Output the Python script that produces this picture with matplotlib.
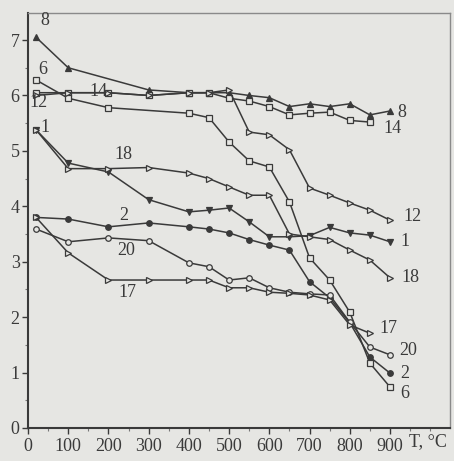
import matplotlib
matplotlib.use('Agg')
import matplotlib.pyplot as plt
from matplotlib.ticker import MultipleLocator

plt.rcParams['font.family'] = ['Liberation Serif', 'DejaVu Serif']

BG = '#e6e6e3'
INK = '#3a3a3a'

# temperature points and values for each curve
t_8 = [20, 100, 300, 400, 450, 500, 550, 600, 650, 700, 750, 800, 850, 900]
v_8 = [7.05, 6.5, 6.1, 6.05, 6.05, 6.05, 6.0, 5.96, 5.8, 5.85, 5.8, 5.85, 5.65, 5.72]

t_14 = [20, 100, 200, 300, 400, 450, 500, 550, 600, 650, 700, 750, 800, 850]
v_14 = [6.05, 6.05, 6.05, 6.0, 6.05, 6.05, 5.95, 5.9, 5.8, 5.65, 5.68, 5.7, 5.55, 5.52]

t_6 = [20, 100, 200, 400, 450, 500, 550, 600, 650, 700, 750, 800, 850, 900]
v_6 = [6.28, 5.95, 5.78, 5.68, 5.6, 5.16, 4.82, 4.71, 4.08, 3.07, 2.67, 2.09, 1.17, 0.74]

t_12 = [20, 100, 200, 300, 400, 450, 500, 550, 600, 650, 700, 750, 800, 850, 900]
v_12 = [6.0, 6.05, 6.05, 6.0, 6.05, 6.05, 6.1, 5.34, 5.29, 5.02, 4.33, 4.2, 4.06, 3.93, 3.75]

t_1 = [20, 100, 200, 300, 400, 450, 500, 550, 600, 650, 700, 750, 800, 850, 900]
v_1 = [5.38, 4.78, 4.62, 4.12, 3.9, 3.93, 3.97, 3.72, 3.45, 3.45, 3.47, 3.62, 3.52, 3.48, 3.36]

t_18 = [20, 100, 200, 300, 400, 450, 500, 550, 600, 650, 700, 750, 800, 850, 900]
v_18 = [5.38, 4.68, 4.68, 4.7, 4.6, 4.5, 4.35, 4.2, 4.2, 3.5, 3.45, 3.4, 3.21, 3.03, 2.71]

t_2 = [20, 100, 200, 300, 400, 450, 500, 550, 600, 650, 700, 750, 800, 850, 900]
v_2 = [3.8, 3.77, 3.63, 3.7, 3.63, 3.59, 3.52, 3.4, 3.3, 3.21, 2.64, 2.35, 1.9, 1.28, 0.99]

t_20 = [20, 100, 200, 300, 400, 450, 500, 550, 600, 650, 700, 750, 800, 850, 900]
v_20 = [3.59, 3.36, 3.43, 3.38, 2.98, 2.91, 2.67, 2.71, 2.53, 2.45, 2.42, 2.4, 1.91, 1.46, 1.32]

t_17 = [20, 100, 200, 300, 400, 450, 500, 550, 600, 650, 700, 750, 800, 850]
v_17 = [3.8, 3.16, 2.67, 2.67, 2.67, 2.67, 2.53, 2.53, 2.45, 2.43, 2.4, 2.31, 1.86, 1.71]

series = [
    ('8', t_8, v_8, '^', True),
    ('14', t_14, v_14, 's', False),
    ('6', t_6, v_6, 's', False),
    ('12', t_12, v_12, '>', False),
    ('1', t_1, v_1, 'v', True),
    ('18', t_18, v_18, '>', False),
    ('2', t_2, v_2, 'o', True),
    ('20', t_20, v_20, 'o', False),
    ('17', t_17, v_17, '>', False),
]

# curve number labels: (text, T, value)
labels = [
    ('8', 42, 7.36), ('6', 37, 6.46), ('12', 25, 5.88), ('14', 174, 6.07),
    ('1', 42, 5.43), ('18', 236, 4.93), ('2', 239, 3.84), ('20', 244, 3.21),
    ('17', 246, 2.44),
    ('8', 930, 5.70), ('14', 905, 5.40), ('12', 955, 3.81), ('1', 937, 3.36),
    ('18', 950, 2.71), ('17', 895, 1.80), ('20', 945, 1.39), ('2', 937, 0.99),
    ('6', 937, 0.63),
]

fig = plt.figure(figsize=(4.54, 4.61), dpi=100, facecolor=BG)
ax = fig.add_axes([0.0617, 0.0716, 0.9293, 0.9004], facecolor=BG)

for name, t, v, m, filled in series:
    ax.plot(t, v, color=INK, linewidth=1.1, marker=m, markersize=4,
            markerfacecolor=INK if filled else BG, markeredgecolor=INK,
            markeredgewidth=0.9)

for txt, x, y in labels:
    ax.text(x, y, txt, fontsize=13, color=INK, ha='center', va='center')

ax.text(995, -0.24, 'T, °C', fontsize=13, color=INK, ha='center', va='center',
        clip_on=False)

ax.set_xlim(0, 1049)
ax.set_ylim(0, 7.49)
ax.set_xticks(range(0, 1000, 100))
ax.set_yticks(range(0, 8))
ax.xaxis.set_minor_locator(MultipleLocator(50))
ax.yaxis.set_minor_locator(MultipleLocator(0.5))
ax.tick_params(axis='both', which='major', labelsize=13, colors=INK,
               direction='out', length=4, width=1, pad=2)
ax.tick_params(axis='both', which='minor', direction='out', length=2,
               width=0.8, colors='#777777')
ax.tick_params(axis='x', pad=3)

for side in ['left', 'bottom']:
    ax.spines[side].set_color(INK)
    ax.spines[side].set_linewidth(1.5)
for side in ['top', 'right']:
    ax.spines[side].set_color('#8a8a8a')
    ax.spines[side].set_linewidth(1.0)

plt.savefig('out.png', dpi=100, facecolor=BG)
plt.close()
